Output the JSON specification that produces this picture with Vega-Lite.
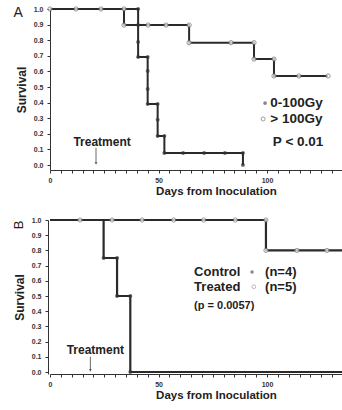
{
  "$schema": "https://vega.github.io/schema/vega-lite/v6.json",
  "padding": {"left": 12, "top": 4, "right": 0, "bottom": 0},
  "autosize": {"type": "pad"},
  "spacing": 18,
  "config": {
    "view": {"stroke": null},
    "font": "Liberation Sans",
    "axis": {"grid": false, "domainColor": "#333", "tickColor": "#333", "labelColor": "#333", "labelFontSize": 7, "labelFont": "Liberation Sans", "labelFontWeight": "bold", "titleFont": "Liberation Sans", "titleFontWeight": "bold", "titleColor": "#222", "tickSize": 3, "labelOverlap": false, "labelFlush": false, "labelSeparation": 0}
  },
  "datasets": {
    "a": [
      {"g": "lo", "i": 1, "d": 0, "s": 1, "m": 0},
      {"g": "lo", "i": 2, "d": 40.6, "s": 1, "m": 1},
      {"g": "lo", "i": 3, "d": 40.6, "s": 0.897, "m": 1},
      {"g": "lo", "i": 4, "d": 40.6, "s": 0.788, "m": 1},
      {"g": "lo", "i": 5, "d": 40.6, "s": 0.692, "m": 1},
      {"g": "lo", "i": 6, "d": 45.0, "s": 0.692, "m": 1},
      {"g": "lo", "i": 7, "d": 45.0, "s": 0.603, "m": 1},
      {"g": "lo", "i": 8, "d": 45.0, "s": 0.487, "m": 1},
      {"g": "lo", "i": 9, "d": 45.0, "s": 0.391, "m": 1},
      {"g": "lo", "i": 10, "d": 49.6, "s": 0.391, "m": 1},
      {"g": "lo", "i": 11, "d": 49.6, "s": 0.29, "m": 1},
      {"g": "lo", "i": 12, "d": 49.6, "s": 0.186, "m": 1},
      {"g": "lo", "i": 13, "d": 52.7, "s": 0.186, "m": 1},
      {"g": "lo", "i": 14, "d": 52.7, "s": 0.077, "m": 1},
      {"g": "lo", "i": 15, "d": 61.3, "s": 0.077, "m": 1},
      {"g": "lo", "i": 16, "d": 71.0, "s": 0.077, "m": 1},
      {"g": "lo", "i": 17, "d": 80.6, "s": 0.077, "m": 1},
      {"g": "lo", "i": 18, "d": 88.9, "s": 0.077, "m": 1},
      {"g": "lo", "i": 19, "d": 88.9, "s": 0, "m": 1},
      {"g": "hi", "i": 1, "d": 0, "s": 1, "m": 1},
      {"g": "hi", "i": 2, "d": 12.0, "s": 1, "m": 1},
      {"g": "hi", "i": 3, "d": 23.5, "s": 1, "m": 1},
      {"g": "hi", "i": 4, "d": 34.1, "s": 1, "m": 1},
      {"g": "hi", "i": 5, "d": 34.1, "s": 0.897, "m": 1},
      {"g": "hi", "i": 6, "d": 45.2, "s": 0.897, "m": 1},
      {"g": "hi", "i": 7, "d": 53.5, "s": 0.897, "m": 1},
      {"g": "hi", "i": 8, "d": 64.1, "s": 0.897, "m": 1},
      {"g": "hi", "i": 9, "d": 64.1, "s": 0.784, "m": 1},
      {"g": "hi", "i": 10, "d": 83.4, "s": 0.784, "m": 1},
      {"g": "hi", "i": 11, "d": 94.0, "s": 0.784, "m": 1},
      {"g": "hi", "i": 12, "d": 94.0, "s": 0.679, "m": 1},
      {"g": "hi", "i": 13, "d": 103.2, "s": 0.679, "m": 1},
      {"g": "hi", "i": 14, "d": 103.2, "s": 0.571, "m": 1},
      {"g": "hi", "i": 15, "d": 114.7, "s": 0.571, "m": 1},
      {"g": "hi", "i": 16, "d": 128.1, "s": 0.571, "m": 1}
    ],
    "b": [
      {"g": "co", "i": 1, "d": 0, "s": 1, "m": 0},
      {"g": "co", "i": 2, "d": 24.7, "s": 1, "m": 0},
      {"g": "co", "i": 3, "d": 24.7, "s": 0.75, "m": 1},
      {"g": "co", "i": 4, "d": 30.9, "s": 0.75, "m": 1},
      {"g": "co", "i": 5, "d": 30.9, "s": 0.5, "m": 1},
      {"g": "co", "i": 6, "d": 37.0, "s": 0.5, "m": 1},
      {"g": "co", "i": 7, "d": 37.0, "s": 0, "m": 1},
      {"g": "co", "i": 8, "d": 135, "s": 0, "m": 0},
      {"g": "tr", "i": 1, "d": 0, "s": 1, "m": 0},
      {"g": "tr", "i": 2, "d": 13.8, "s": 1, "m": 1},
      {"g": "tr", "i": 3, "d": 28.6, "s": 1, "m": 1},
      {"g": "tr", "i": 4, "d": 42.4, "s": 1, "m": 1},
      {"g": "tr", "i": 5, "d": 57.0, "s": 1, "m": 1},
      {"g": "tr", "i": 6, "d": 70.8, "s": 1, "m": 1},
      {"g": "tr", "i": 7, "d": 85.4, "s": 1, "m": 1},
      {"g": "tr", "i": 8, "d": 99.5, "s": 1, "m": 1},
      {"g": "tr", "i": 9, "d": 99.5, "s": 0.8, "m": 1},
      {"g": "tr", "i": 10, "d": 113.8, "s": 0.8, "m": 1},
      {"g": "tr", "i": 11, "d": 127.6, "s": 0.8, "m": 1},
      {"g": "tr", "i": 12, "d": 135, "s": 0.8, "m": 0}
    ]
  },
  "vconcat": [
    {
      "width": 293,
      "height": 161,
      "encoding": {
        "x": {"field": "d", "type": "quantitative", "scale": {"domain": [0, 135], "nice": false, "zero": false},
          "axis": {"title": "Days from Inoculation", "titleFontSize": 11.5, "titleX": 166, "titlePadding": 2, "values": [0,5,10,15,20,25,30,35,40,45,50,55,60,65,70,75,80,85,90,95,100,105,110,115,120,125,130,135], "labelExpr": "datum.value % 50 === 0 ? datum.label : ''", "labelPadding": 3, "labelOverlap": false, "labelFlush": false}},
        "y": {"field": "s", "type": "quantitative", "scale": {"domain": [-0.032, 1], "nice": false, "zero": false},
          "axis": {"title": "Survival", "titleFontSize": 12, "titlePadding": 5, "values": [0,0.1,0.2,0.3,0.4,0.5,0.6,0.7,0.8,0.9,1], "format": ".1f", "labelPadding": 4, "labelOverlap": false, "labelFlush": false}}
      },
      "layer": [
        {
          "data": {"name": "a"},
          "mark": {"type": "line", "interpolate": "step-after", "color": "#2a2a2a", "strokeWidth": 2},
          "encoding": {
            "detail": {"field": "g"},
            "order": {"field": "i", "type": "quantitative"}
          }
        },
        {
          "data": {"name": "a"},
          "transform": [{"filter": "datum.m === 1 && datum.g === 'lo'"}],
          "mark": {"type": "point", "shape": "circle", "filled": true, "color": "#333", "size": 16},
          "encoding": {}
        },
        {
          "data": {"name": "a"},
          "transform": [{"filter": "datum.m === 1 && datum.g === 'hi'"}],
          "mark": {"type": "point", "shape": "circle", "filled": true, "fill": "white", "stroke": "#666", "strokeWidth": 1, "size": 18},
          "encoding": {}
        },
        {
          "data": {"values": [{"d": 99.1, "s": 0.397}]},
          "mark": {"type": "point", "shape": "circle", "filled": true, "color": "#555", "size": 14},
          "encoding": {}
        },
        {
          "data": {"values": [{"d": 98.2, "s": 0.295}]},
          "mark": {"type": "point", "shape": "circle", "filled": true, "fill": "white", "stroke": "#777", "strokeWidth": 1, "size": 16},
          "encoding": {}
        },
        {
          "data": {"values": [{"d": 101.5, "s": 0.397, "t": "0-100Gy"}, {"d": 101.5, "s": 0.295, "t": "> 100Gy"}]},
          "mark": {"type": "text", "align": "left", "baseline": "middle", "fontSize": 13.5, "fontWeight": "bold", "color": "#222"},
          "encoding": {"text": {"field": "t"}}
        },
        {
          "data": {"values": [{"d": 114.3, "s": 0.147, "t": "P < 0.01"}]},
          "mark": {"type": "text", "align": "center", "baseline": "middle", "fontSize": 13.5, "fontWeight": "bold", "color": "#222"},
          "encoding": {"text": {"field": "t"}}
        },
        {
          "data": {"values": [{"d": 24, "s": 0.147, "t": "Treatment"}]},
          "mark": {"type": "text", "align": "center", "baseline": "middle", "fontSize": 12, "fontWeight": "bold", "color": "#222"},
          "encoding": {"text": {"field": "t"}}
        },
        {
          "data": {"values": [{"d": -14.7, "s": 0.975, "t": "A"}]},
          "mark": {"type": "text", "align": "center", "baseline": "middle", "fontSize": 14, "color": "#222"},
          "encoding": {"text": {"field": "t"}}
        },
        {
          "data": {"values": [{"d": 21.2, "s": 0.11, "s2": 0.005}]},
          "mark": {"type": "rule", "color": "#444", "strokeWidth": 0.8},
          "encoding": {"y2": {"field": "s2"}}
        },
        {
          "data": {"values": [{"d": 21.2, "s": 0.012}]},
          "mark": {"type": "point", "shape": "triangle-down", "filled": true, "color": "#444", "size": 8},
          "encoding": {}
        }
      ]
    },
    {
      "width": 293,
      "height": 154,
      "encoding": {
        "x": {"field": "d", "type": "quantitative", "scale": {"domain": [0, 135], "nice": false, "zero": false},
          "axis": {"title": "Days from Inoculation", "titleFontSize": 11.5, "titleX": 166, "titlePadding": 2, "values": [0,5,10,15,20,25,30,35,40,45,50,55,60,65,70,75,80,85,90,95,100,105,110,115,120,125,130,135], "labelExpr": "datum.value % 50 === 0 ? datum.label : ''", "labelPadding": 3, "labelOverlap": false, "labelFlush": false}},
        "y": {"field": "s", "type": "quantitative", "scale": {"domain": [-0.013, 1], "nice": false, "zero": false},
          "axis": {"title": "Survival", "titleFontSize": 12, "titlePadding": 5, "values": [0,0.1,0.2,0.3,0.4,0.5,0.6,0.7,0.8,0.9,1], "format": ".1f", "labelPadding": 4, "offset": 2, "labelOverlap": false, "labelFlush": false}}
      },
      "layer": [
        {
          "data": {"name": "b"},
          "mark": {"type": "line", "interpolate": "step-after", "color": "#2a2a2a", "strokeWidth": 2.2},
          "encoding": {
            "detail": {"field": "g"},
            "order": {"field": "i", "type": "quantitative"}
          }
        },
        {
          "data": {"name": "b"},
          "transform": [{"filter": "datum.m === 1 && datum.g === 'co'"}],
          "mark": {"type": "point", "shape": "circle", "filled": true, "color": "#333", "size": 16},
          "encoding": {}
        },
        {
          "data": {"name": "b"},
          "transform": [{"filter": "datum.m === 1 && datum.g === 'tr'"}],
          "mark": {"type": "point", "shape": "circle", "filled": true, "fill": "white", "stroke": "#777", "strokeWidth": 1, "size": 18},
          "encoding": {}
        },
        {
          "data": {"values": [{"d": 93.1, "s": 0.658}]},
          "mark": {"type": "point", "shape": "circle", "filled": true, "color": "#555", "size": 12},
          "encoding": {}
        },
        {
          "data": {"values": [{"d": 93.9, "s": 0.561}]},
          "mark": {"type": "point", "shape": "circle", "filled": true, "fill": "white", "stroke": "#999", "strokeWidth": 1, "size": 14},
          "encoding": {}
        },
        {
          "data": {"values": [{"d": 66.4, "s": 0.658, "t": "Control"}, {"d": 66.4, "s": 0.561, "t": "Treated"}, {"d": 99.1, "s": 0.658, "t": "(n=4)"}, {"d": 99.1, "s": 0.561, "t": "(n=5)"}]},
          "mark": {"type": "text", "align": "left", "baseline": "middle", "fontSize": 13, "fontWeight": "bold", "color": "#222"},
          "encoding": {"text": {"field": "t"}}
        },
        {
          "data": {"values": [{"d": 66.4, "s": 0.434, "t": "(p = 0.0057)"}]},
          "mark": {"type": "text", "align": "left", "baseline": "middle", "fontSize": 11, "fontWeight": "bold", "color": "#222"},
          "encoding": {"text": {"field": "t"}}
        },
        {
          "data": {"values": [{"d": 20.9, "s": 0.145, "t": "Treatment"}]},
          "mark": {"type": "text", "align": "center", "baseline": "middle", "fontSize": 12, "fontWeight": "bold", "color": "#222"},
          "encoding": {"text": {"field": "t"}}
        },
        {
          "data": {"values": [{"d": -14.3, "s": 0.967, "t": "B"}]},
          "mark": {"type": "text", "align": "center", "baseline": "middle", "fontSize": 13, "angle": 270, "color": "#222"},
          "encoding": {"text": {"field": "t"}}
        },
        {
          "data": {"values": [{"d": 18.6, "s": 0.1, "s2": 0.005}]},
          "mark": {"type": "rule", "color": "#444", "strokeWidth": 0.8},
          "encoding": {"y2": {"field": "s2"}}
        },
        {
          "data": {"values": [{"d": 18.6, "s": 0.012}]},
          "mark": {"type": "point", "shape": "triangle-down", "filled": true, "color": "#444", "size": 8},
          "encoding": {}
        }
      ]
    }
  ]
}
